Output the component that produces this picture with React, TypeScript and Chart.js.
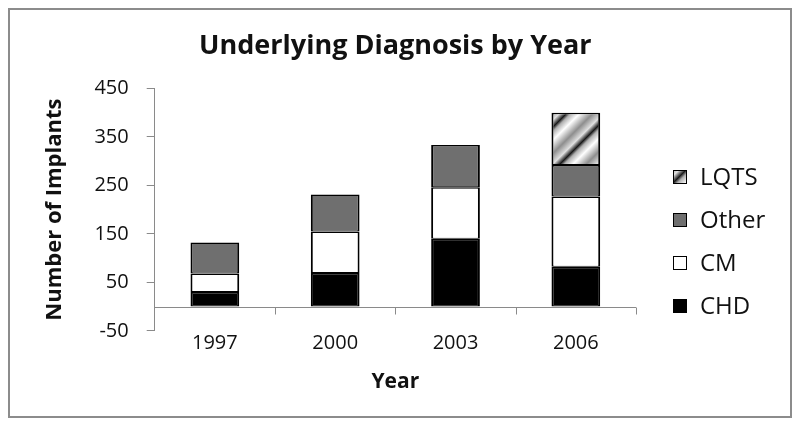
import React, { useEffect, useRef } from 'react';
import { Chart, registerables } from 'chart.js';

Chart.register(...registerables);

// ---- data ----
const years = ['1997', '2000', '2003', '2006'];
const chd = [30, 69, 140, 82];
const cm = [38, 86, 106, 145];
const other = [64, 76, 87, 65];
const lqts = [null, null, null, 108];
const yTicks = [-50, 50, 150, 250, 350, 450];
const seriesNames = ['CHD', 'CM', 'Other', 'LQTS'];

const AXIS = '#8a8a8a';
const FONT = "'Open Sans', 'DejaVu Sans', sans-serif";

function makePattern(): CanvasPattern | string {
  const S = 44;
  const c = document.createElement('canvas');
  c.width = S;
  c.height = S;
  const g = c.getContext('2d');
  if (!g) return '#aaaaaa';
  const grad = g.createLinearGradient(0, 0, S, S);
  const stops: [number, string][] = [
    [0, '#1a1a1a'],
    [0.05, '#b0b0b0'],
    [0.15, '#ffffff'],
    [0.3, '#8e8e8e'],
    [0.42, '#e0e0e0'],
    [0.5, '#1a1a1a'],
  ];
  for (let k = 0; k < 2; k++) {
    stops.forEach(([t, col]) => grad.addColorStop(Math.min(1, k * 0.5 + t), col));
  }
  g.fillStyle = grad;
  g.fillRect(0, 0, S, S);
  const p = g.createPattern(c, 'repeat');
  return p || '#aaaaaa';
}

const excelPlugin = {
  id: 'excelish',
  beforeDatasetsDraw(chart: any) {
    const { ctx, chartArea } = chart;
    const x = chart.scales.x;
    const y = chart.scales.y;
    const y0 = Math.round(y.getPixelForValue(0)) + 0.5;
    ctx.save();
    ctx.strokeStyle = AXIS;
    ctx.lineWidth = 1;
    ctx.beginPath();
    ctx.moveTo(chartArea.left, y0);
    ctx.lineTo(chartArea.right, y0);
    for (let i = 1; i <= years.length; i++) {
      const px =
        i < years.length
          ? (x.getPixelForTick(i - 1) + x.getPixelForTick(i)) / 2
          : chartArea.right - 0.5;
      const rx = Math.round(px) + 0.5;
      ctx.moveTo(rx, y0);
      ctx.lineTo(rx, y0 + 7);
    }
    ctx.stroke();
    ctx.restore();
  },
  afterDraw(chart: any) {
    const { ctx, chartArea } = chart;
    const ds = chart.data.datasets;
    const boxX = chartArea.right + 37;
    const textX = chartArea.right + 64;
    const firstY = 167;
    const step = 43;
    ctx.save();
    ctx.font = `24px ${FONT}`;
    ctx.textBaseline = 'middle';
    ctx.textAlign = 'left';
    for (let k = 0; k < ds.length; k++) {
      const d = ds[ds.length - 1 - k];
      const cy = firstY + k * step;
      ctx.fillStyle = d.backgroundColor;
      ctx.fillRect(boxX, cy - 7, 14, 14);
      ctx.strokeStyle = '#000';
      ctx.lineWidth = 1;
      ctx.strokeRect(boxX + 0.5, cy - 6.5, 13, 13);
      ctx.fillStyle = '#111';
      ctx.fillText(d.label, textX, cy + 1);
    }
    ctx.restore();
  },
};

export default function App() {
  const ref = useRef<HTMLCanvasElement | null>(null);

  useEffect(() => {
    if (!ref.current) return;
    const pattern = makePattern();
    const fills = ['#000000', '#ffffff', '#6f6f6f', pattern];
    const values = [chd, cm, other, lqts];
    const chart = new Chart(ref.current, {
      type: 'bar',
      data: {
        labels: years,
        datasets: seriesNames.map((name, i) => ({
          label: name,
          data: values[i] as any,
          backgroundColor: fills[i] as any,
          borderColor: '#000000',
          borderWidth: { left: 2, right: 2, top: 1.5, bottom: 1 },
          borderSkipped: false,
          barPercentage: 0.405,
          categoryPercentage: 1,
        })),
      },
      options: {
        animation: false,
        responsive: false,
        maintainAspectRatio: false,
        layout: { padding: { left: 32, right: 154, top: 0, bottom: 21 } },
        font: { family: FONT },
        plugins: {
          legend: { display: false },
          tooltip: { enabled: false },
          title: {
            display: true,
            fullSize: false,
            text: 'Underlying Diagnosis by Year',
            color: '#111',
            font: { family: FONT, size: 27, weight: 'bold' },
            padding: { top: 20, bottom: 26 },
          },
        },
        scales: {
          x: {
            stacked: true,
            grid: { display: false, drawTicks: false, tickLength: 0 },
            border: { display: false },
            ticks: {
              color: '#111',
              font: { family: FONT, size: 20 },
              padding: 0,
            },
            title: {
              display: true,
              text: 'Year',
              color: '#111',
              font: { family: FONT, size: 21, weight: 'bold' },
              padding: { top: 15, bottom: 0 },
            },
          },
          y: {
            stacked: true,
            min: -50,
            max: 450,
            afterBuildTicks: (scale: any) => {
              scale.ticks = yTicks.map((v) => ({ value: v }));
            },
            grid: {
              display: true,
              drawOnChartArea: false,
              drawTicks: true,
              tickLength: 8,
              color: AXIS,
            },
            border: { display: true, color: AXIS, width: 1 },
            ticks: {
              color: '#111',
              font: { family: FONT, size: 20 },
              padding: 18,
            },
            title: {
              display: true,
              text: 'Number of Implants',
              color: '#111',
              font: { family: FONT, size: 22, weight: 'bold' },
              padding: { top: 0, bottom: 8 },
            },
          },
        },
      },
      plugins: [excelPlugin],
    });
    return () => chart.destroy();
  }, []);

  return (
    <div
      style={{
        width: 784,
        height: 410,
        border: '2px solid #8c8c8c',
        boxSizing: 'border-box',
        background: '#fff',
      }}
    >
      <canvas ref={ref} width={780} height={406} style={{ display: 'block' }} />
    </div>
  );
}
